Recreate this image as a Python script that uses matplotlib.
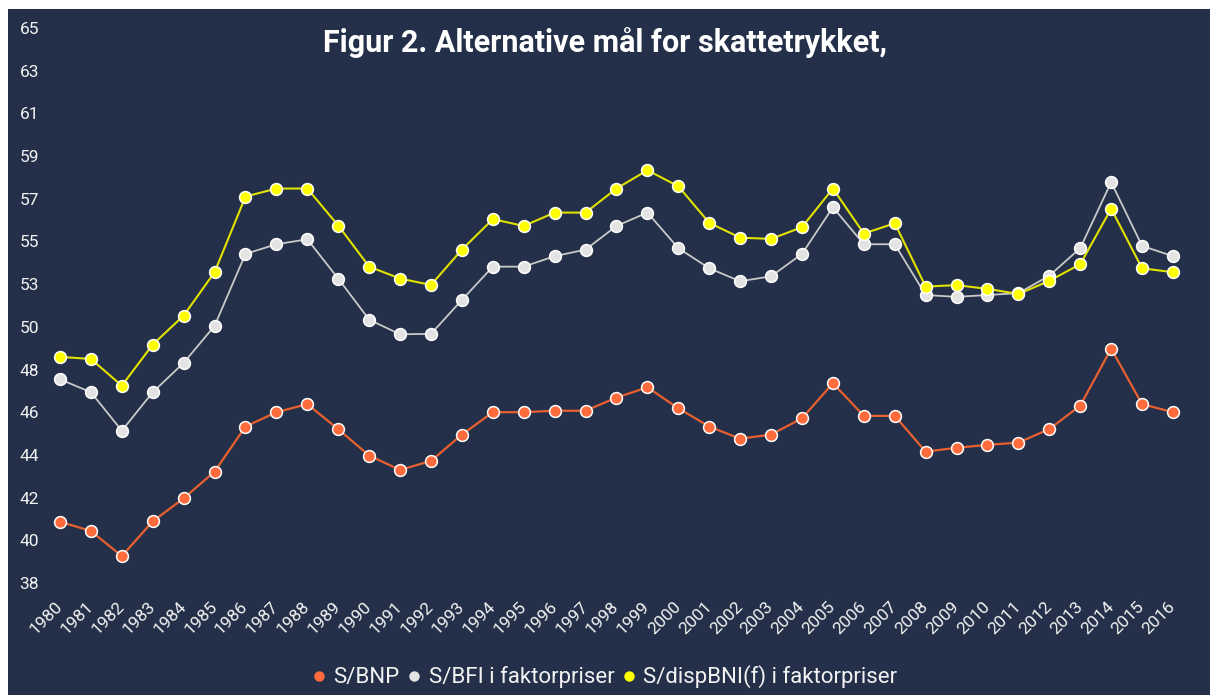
import matplotlib.pyplot as plt
import numpy as np
from matplotlib.patches import Rectangle

years = np.arange(1980, 2017)

s_bnp = [40.98, 40.53, 39.31, 41.0, 42.12, 43.42, 45.61, 46.31, 46.70, 45.48,
         44.20, 43.50, 43.94, 45.22, 46.31, 46.31, 46.38, 46.38, 47.02, 47.52,
         46.50, 45.61, 45.02, 45.22, 46.01, 47.72, 46.13, 46.13, 44.39, 44.58,
         44.72, 44.83, 45.49, 46.63, 49.40, 46.70, 46.31]

s_bfi = [47.91, 47.28, 45.41, 47.28, 48.71, 50.51, 54.01, 54.48, 54.72, 52.81,
         50.81, 50.10, 50.12, 51.77, 53.39, 53.39, 53.90, 54.22, 55.37, 56.02,
         54.29, 53.31, 52.68, 52.92, 54.01, 56.28, 54.48, 54.48, 52.01, 51.92,
         52.01, 52.10, 52.95, 54.29, 57.50, 54.40, 53.90]

s_disp = [49.00, 48.90, 47.60, 49.60, 51.01, 53.12, 56.80, 57.19, 57.19, 55.39,
          53.39, 52.81, 52.50, 54.22, 55.70, 55.37, 56.02, 56.02, 57.19, 58.08,
          57.30, 55.52, 54.80, 54.74, 55.31, 57.19, 55.00, 55.50, 52.42, 52.49,
          52.31, 52.06, 52.70, 53.51, 56.21, 53.31, 53.12]

labels = ['S/BNP', 'S/BFI i faktorpriser', 'S/dispBNI(f) i faktorpriser']
title = 'Figur 2. Alternative mål for skattetrykket,'

BG = '#243049'
FONT = ['Roboto', 'DejaVu Sans']


def make_plot():
    W, H = 1210, 695
    fig = plt.figure(figsize=(W / 100, H / 100), dpi=100, facecolor=BG)
    # white strips on top and left, as in the screenshot
    fig.patches.append(Rectangle((0, 1 - 9 / H), 1, 9 / H, transform=fig.transFigure,
                                 facecolor='white', edgecolor='none', zorder=-5))
    fig.patches.append(Rectangle((0, 0), 8 / W, 1, transform=fig.transFigure,
                                 facecolor='white', edgecolor='none', zorder=-5))

    ax = fig.add_axes([60 / W, (H - 583) / H, (1173 - 60) / W, (583 - 28) / H])
    ax.set_facecolor('none')
    for s in ax.spines.values():
        s.set_visible(False)

    series = [
        (s_bnp, '#ff6b3d', '#e8602f', 1.6),
        (s_bfi, '#e3e3e3', '#c9c9c9', 1.3),
        (s_disp, '#ffff00', '#e2e200', 1.5),
    ]
    for (vals, mcol, lcol, lw), lab in zip(series, labels):
        ax.plot(years, vals, color=lcol, lw=lw, zorder=2, clip_on=False)
        ax.plot(years, vals, ls='none', marker='o', ms=8.5, mfc=mcol, mec='white',
                mew=1.1, zorder=3, clip_on=False, label=lab)

    ax.set_xlim(1980, 2016)
    ax.set_ylim(38, 65)
    yt = np.linspace(38, 65, 14)
    ax.set_yticks(yt)
    ax.set_yticklabels([f'{v:.0f}' for v in yt])
    ax.set_xticks(years)
    ax.set_xticklabels([str(y) for y in years], rotation=45, ha='right',
                       va='center', rotation_mode='anchor')
    ax.tick_params(axis='y', length=0, pad=15, labelsize=12.5, labelcolor='#f2f2f2')
    ax.tick_params(axis='x', length=0, pad=15, labelsize=12.5, labelcolor='#f2f2f2')
    for t in ax.get_xticklabels() + ax.get_yticklabels():
        t.set_family(FONT)

    fig.text(0.5, 1 - 43 / H, title, ha='center', va='center', color='white',
             fontsize=22, fontweight='bold', family=FONT)

    leg = fig.legend(loc='center', bbox_to_anchor=(0.5, 1 - 677 / H), ncol=3,
                     frameon=False, handletextpad=0.35, columnspacing=0.35,
                     handlelength=0.6, borderpad=0,
                     prop={'family': FONT, 'size': 16})
    for t in leg.get_texts():
        t.set_color('#f2f2f2')
    for h in leg.legend_handles:
        h.set_markeredgewidth(0)
        h.set_markersize(7.5)

    fig.savefig('out.png', dpi=100, facecolor=fig.get_facecolor())


if __name__ == '__main__':
    make_plot()
